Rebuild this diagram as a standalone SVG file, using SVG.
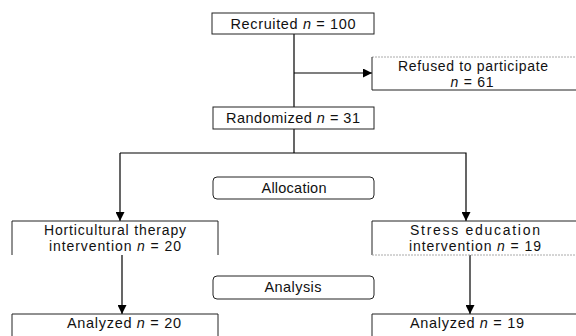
<svg xmlns="http://www.w3.org/2000/svg" width="576" height="336" viewBox="0 0 576 336">
<defs>
<marker id="ah" viewBox="0 0 10 10" refX="10" refY="5" markerWidth="9" markerHeight="9" markerUnits="userSpaceOnUse" orient="auto">
<path d="M0,0 L10,5 L0,10 Z" fill="#000"/>
</marker>
</defs>
<style>
text{font-family:"Liberation Sans",Arial,sans-serif;font-size:14.5px;fill:#111;text-anchor:middle}
.s{font-size:14px}
.i{font-style:italic}
.box{fill:#fff;stroke:#222;stroke-width:1}
.faint{fill:none;stroke:#aaa;stroke-width:1;stroke-dasharray:2 1}
.edge{fill:none;stroke:#222;stroke-width:1}
.con{fill:none;stroke:#000;stroke-width:1.2}
</style>
<rect width="576" height="336" fill="#fff"/>
<g id="connectors">
<path class="con" d="M294,34 V107"/>
<path class="con" d="M294,73 H372" marker-end="url(#ah)"/>
<path class="con" d="M294,129 V153"/>
<path class="con" d="M120,153 H466 V221" marker-end="url(#ah)"/>
<path class="con" d="M120,153 V221" marker-end="url(#ah)"/>
<path class="con" d="M122,255 V314" marker-end="url(#ah)"/>
<path class="con" d="M470,255 V314" marker-end="url(#ah)"/>
</g>
<g id="recruited">
<rect class="box" x="212" y="13" width="162" height="21"/>
<text x="293" y="29" textLength="125">Recruited <tspan class="i">n</tspan> = 100</text>
</g>
<g id="refused">
<path class="faint" d="M372,57 H576"/>
<path class="edge" d="M372,57 V90 H576"/>
<text class="s" x="473" y="71" textLength="150">Refused to participate</text>
<text class="s" x="472" y="87" textLength="43"><tspan class="i">n</tspan> = 61</text>
</g>
<g id="randomized">
<rect class="box" x="213" y="107" width="161" height="22"/>
<text x="293" y="123" textLength="134">Randomized <tspan class="i">n</tspan> = 31</text>
</g>
<g id="allocation">
<rect class="box" x="213" y="177" width="161" height="22" rx="4"/>
<text x="294" y="193" textLength="65">Allocation</text>
</g>
<g id="horticultural">
<path class="edge" d="M12,255 V221 H218 V255"/>
<text class="s" x="115" y="235" textLength="142">Horticultural therapy</text>
<text class="s" x="115" y="251" textLength="132">intervention <tspan class="i">n</tspan> = 20</text>
</g>
<g id="stress">
<path class="edge" d="M372,255 V221 H576"/>
<path class="faint" d="M372,255 H576"/>
<text class="s" x="475" y="235" textLength="130">Stress education</text>
<text class="s" x="475" y="251" textLength="132">intervention <tspan class="i">n</tspan> = 19</text>
</g>
<g id="analysis">
<rect class="box" x="213" y="276" width="161" height="23" rx="4"/>
<text x="293" y="292" textLength="57">Analysis</text>
</g>
<g id="analyzed-left">
<path class="edge" d="M12,337 V314 H218 V337"/>
<text x="124" y="328" textLength="114">Analyzed <tspan class="i">n</tspan> = 20</text>
</g>
<g id="analyzed-right">
<path class="edge" d="M372,337 V314 H576"/>
<text x="467" y="328" textLength="114">Analyzed <tspan class="i">n</tspan> = 19</text>
</g>
</svg>
